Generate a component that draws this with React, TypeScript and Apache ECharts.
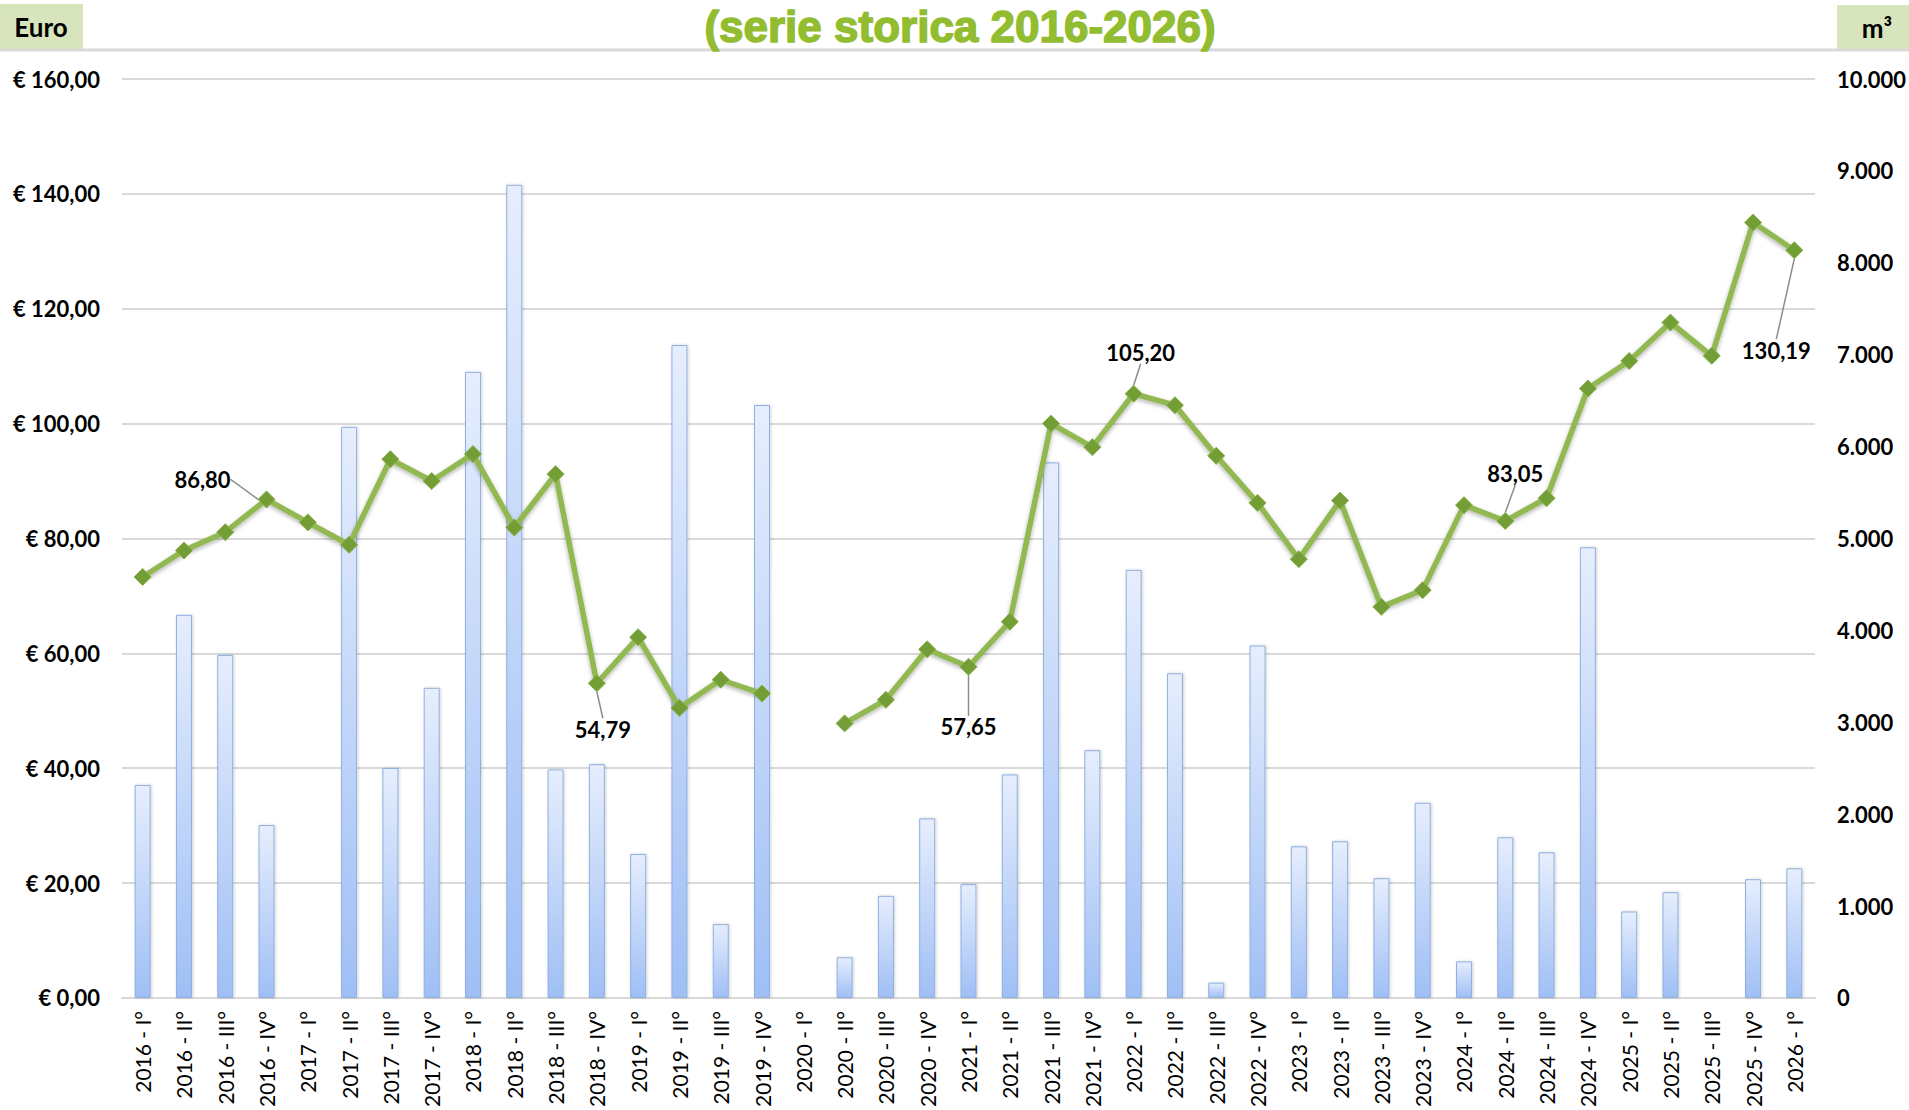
import React, { useEffect, useRef } from "react";
import * as echarts from "echarts";

const categories = [
  "2016 - I°", "2016 - II°", "2016 - III°", "2016 - IV°",
  "2017 - I°", "2017 - II°", "2017 - III°", "2017 - IV°",
  "2018 - I°", "2018 - II°", "2018 - III°", "2018 - IV°",
  "2019 - I°", "2019 - II°", "2019 - III°", "2019 - IV°",
  "2020 - I°", "2020 - II°", "2020 - III°", "2020 - IV°",
  "2021 - I°", "2021 - II°", "2021 - III°", "2021 - IV°",
  "2022 - I°", "2022 - II°", "2022 - III°", "2022 - IV°",
  "2023 - I°", "2023 - II°", "2023 - III°", "2023 - IV°",
  "2024 - I°", "2024 - II°", "2024 - III°", "2024 - IV°",
  "2025 - I°", "2025 - II°", "2025 - III°", "2025 - IV°",
  "2026 - I°",
];

// Prezzo medio (€) – asse sinistro
const prices: (number | null)[] = [
  73.3, 77.9, 81.1, 86.8, 82.8, 78.9, 93.8, 90.0, 94.7, 81.9, 91.2, 54.79,
  62.8, 50.5, 55.4, 53.0, null, 47.8, 51.9, 60.7, 57.65, 65.5, 100.0, 95.9,
  105.2, 103.2, 94.4, 86.2, 76.4, 86.6, 68.1, 71.0, 85.8, 83.05, 87.0, 106.1,
  110.9, 117.6, 111.8, 135.0, 130.19,
];

// Volumi (m³) – asse destro
const volumes: (number | null)[] = [
  2318, 4169, 3733, 1882, null, 6215, 2503, 3375, 6813, 8849, 2486, 2544,
  1567, 7105, 803, 6453, null, 442, 1111, 1954, 1238, 2432, 5828, 2696,
  4658, 3533, 166, 3835, 1650, 1705, 1303, 2124, 398, 1748, 1585, 4904,
  941, 1151, null, 1292, 1411,
];

// indices of the labelled price points
const labelledPoints = [3, 11, 20, 24, 33, 40];

// label offsets (px) relative to the point
const labelOffsets: Record<number, [number, number]> = {
  3: [-64, -20],
  11: [6, 46],
  20: [0, 60],
  24: [7, -41],
  33: [10, -47],
  40: [-18, 100],
};

const FONT = "Lato, 'Open Sans', sans-serif";

const fmtEuro = (v: number) => "€ " + v.toFixed(2).replace(".", ",");
const fmtThousands = (v: number) =>
  String(Math.round(v)).replace(/\B(?=(\d{3})+(?!\d))/g, ".");

export default function App() {
  const ref = useRef<HTMLDivElement>(null);

  useEffect(() => {
    if (!ref.current) return;
    const chart = echarts.init(ref.current, undefined, { renderer: "svg" });

    const lineData = prices.map((v, i) =>
      labelledPoints.includes(i)
        ? { value: v, label: { show: true }, labelLine: { show: true } }
        : v
    );

    const option: any = {
      animation: false,
      backgroundColor: "#ffffff",
      grid: { left: 122, right: 93, top: 79, bottom: 110, containLabel: false },
      graphic: [
        {
          type: "line",
          shape: { x1: 0, y1: 50, x2: 1909, y2: 50 },
          style: { stroke: "#d9d9d9", lineWidth: 3 },
          z: 1,
        },
        {
          type: "rect",
          shape: { x: 0, y: 4, width: 83, height: 45 },
          style: { fill: "#d8e4bc" },
          z: 2,
        },
        {
          type: "text",
          x: 41,
          y: 27,
          style: {
            text: "Euro",
            font: `bold 26px ${FONT}`,
            fill: "#000",
            align: "center",
            verticalAlign: "middle",
          },
          z: 3,
        },
        {
          type: "rect",
          shape: { x: 1837, y: 5, width: 72, height: 44 },
          style: { fill: "#d8e4bc" },
          z: 2,
        },
        {
          type: "text",
          x: 1877,
          y: 28,
          style: {
            text: "m³",
            font: `bold 26px ${FONT}`,
            fill: "#000",
            align: "center",
            verticalAlign: "middle",
          },
          z: 3,
        },
        {
          type: "text",
          x: 960,
          y: 26,
          style: {
            text: "(serie storica 2016-2026)",
            font: "bold 44px 'Liberation Sans', Arial, sans-serif",
            fill: "#92bd30",
            stroke: "#92bd30",
            lineWidth: 1.5,
            align: "center",
            verticalAlign: "middle",
          },
          z: 3,
        },
      ],
      xAxis: {
        type: "category",
        data: categories,
        boundaryGap: true,
        axisLine: { show: true, lineStyle: { color: "#d9d9d9", width: 2 } },
        axisTick: { show: false },
        axisLabel: {
          interval: 0,
          rotate: 90,
          margin: 13,
          fontFamily: FONT,
          fontSize: 21,
          color: "#000",
        },
      },
      yAxis: [
        {
          type: "value",
          min: 0,
          max: 160,
          interval: 20,
          position: "left",
          axisLine: { show: false },
          axisTick: { show: false },
          splitLine: { show: true, lineStyle: { color: "#d9d9d9", width: 2 } },
          axisLabel: {
            formatter: fmtEuro,
            margin: 22,
            fontFamily: FONT,
            fontWeight: "bold",
            fontSize: 22,
            color: "#000",
          },
        },
        {
          type: "value",
          min: 0,
          max: 10000,
          interval: 1000,
          position: "right",
          axisLine: { show: false },
          axisTick: { show: false },
          splitLine: { show: false },
          axisLabel: {
            formatter: fmtThousands,
            margin: 22,
            fontFamily: FONT,
            fontWeight: "bold",
            fontSize: 22,
            color: "#000",
          },
        },
      ],
      series: [
        {
          name: "m³",
          type: "bar",
          yAxisIndex: 1,
          data: volumes,
          barWidth: 16,
          itemStyle: {
            color: new echarts.graphic.LinearGradient(0, 0, 0, 1, [
              { offset: 0, color: "#e6eefd" },
              { offset: 1, color: "#9fbff5" },
            ]),
            borderColor: "#90afdf",
            borderWidth: 1,
            shadowColor: "rgba(0,0,0,0.18)",
            shadowBlur: 3,
            shadowOffsetX: 1,
            shadowOffsetY: 0,
          },
          z: 2,
        },
        {
          name: "Euro",
          type: "line",
          yAxisIndex: 0,
          data: lineData,
          connectNulls: false,
          symbol: "diamond",
          symbolSize: 17,
          showSymbol: true,
          lineStyle: {
            color: "#92b851",
            width: 5.5,
            shadowColor: "rgba(0,0,0,0.3)",
            shadowBlur: 4,
            shadowOffsetY: 2,
          },
          itemStyle: {
            color: "#739d35",
            borderColor: "#88b04a",
            borderWidth: 1,
          },
          label: {
            show: false,
            formatter: (p: any) => Number(p.value).toFixed(2).replace(".", ","),
            fontFamily: FONT,
            fontWeight: "bold",
            fontSize: 22,
            color: "#000",
          },
          labelLine: {
            show: false,
            lineStyle: { color: "#8c8c8c", width: 1.5 },
          },
          labelLayout: (p: any) => {
            const o = labelOffsets[p.dataIndex];
            if (!o) return {};
            const r = p.rect;
            return {
              x: r.x + r.width / 2 + o[0],
              y: r.y + r.height / 2 + o[1],
              align: "center",
              verticalAlign: "middle",
            };
          },
          z: 5,
        },
      ],
    };

    chart.setOption(option);
    return () => chart.dispose();
  }, []);

  return (
    <div
      ref={ref}
      style={{ position: "fixed", left: 0, top: 0, width: 1909, height: 1110 }}
    />
  );
}
